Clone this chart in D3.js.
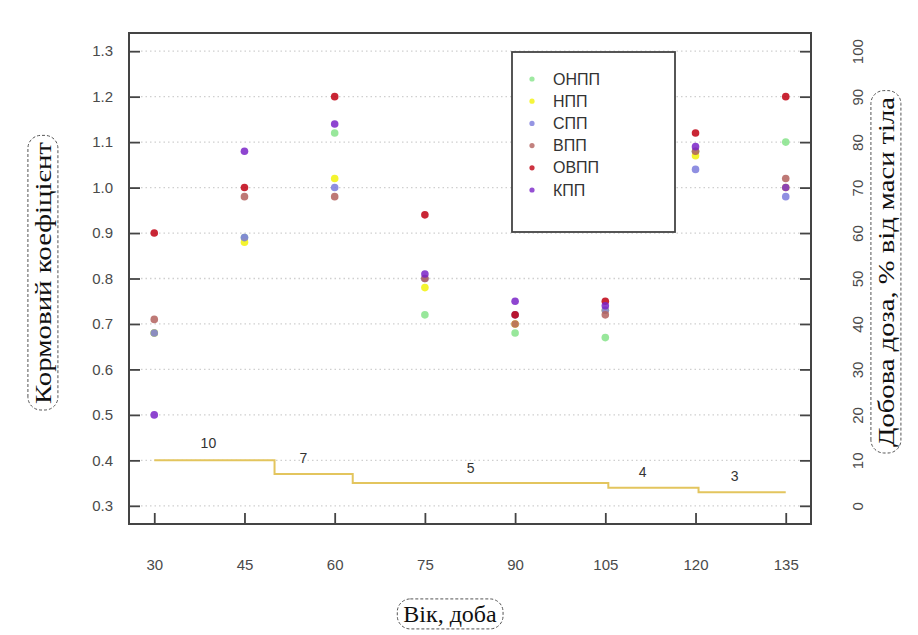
<!DOCTYPE html>
<html>
<head>
<meta charset="utf-8">
<script src="https://cdn.jsdelivr.net/npm/d3@7"></script>
<style>
	body { margin: 0; background: #fff; }
	svg { display: block; }
</style>
</head>
<body>
<svg id="chart" width="918" height="635"></svg>
<script>
"use strict";

// age of the fish, days
var days = [30, 45, 60, 75, 90, 105, 120, 135];

// feed coefficient per group
var seriesNames = ["ОНПП", "НПП", "СПП", "ВПП", "ОВПП", "КПП"];
var onpp = [0.68, 0.89, 1.12, 0.72, 0.68, 0.67, 1.08, 1.10];
var npp  = [0.68, 0.88, 1.02, 0.78, 0.70, 0.73, 1.07, 1.00];
var spp  = [0.68, 0.89, 1.00, 0.80, 0.72, 0.73, 1.04, 0.98];
var vpp  = [0.71, 0.98, 0.98, 0.80, 0.70, 0.72, 1.08, 1.02];
var ovpp = [0.90, 1.00, 1.20, 0.94, 0.72, 0.75, 1.12, 1.20];
var kpp  = [0.50, 1.08, 1.14, 0.81, 0.75, 0.74, 1.09, 1.00];
var seriesColors = ["#86e38a", "#f2f20a", "#7b7bdc", "#b3625e", "#c00012", "#7a24c8"];

// daily ration, % of body mass (right axis)
var doseBreaks = [30, 50, 63, 105.5, 120.5, 135];
var doseValues = [10, 7, 5, 4, 3];
var doseLabelX = [39, 54.8, 82.6, 111.2, 126.5];
var doseLabelY = [13.7, 10.4, 8.4, 7.4, 6.6];

var leftTicks = [0.3, 0.4, 0.5, 0.6, 0.7, 0.8, 0.9, 1.0, 1.1, 1.2, 1.3];
var rightTicks = [0, 10, 20, 30, 40, 50, 60, 70, 80, 90, 100];

var yTitle = "Кормовий коефіцієнт";
var y2Title = "Добова доза, % від маси тіла";
var xTitle = "Вік, доба";

(function() {
	var svg = d3.select("#chart");
	var box = {left: 129, right: 811, top: 33, bottom: 524};

	// R style 4% padding around the data range
	var x = d3.scaleLinear().domain([25.8, 139.2]).range([box.left, box.right]);
	var y = d3.scaleLinear().domain([0.26, 1.34]).range([box.bottom, box.top]);
	var y2 = d3.scaleLinear().domain([-4, 104]).range([box.bottom, box.top]);

	svg.append("rect").attr("width", 918).attr("height", 635).attr("fill", "#fff");

	// dotted grid
	svg.append("g").selectAll("line")
		.data(leftTicks)
		.join("line")
		.attr("x1", box.left + 12).attr("x2", box.right - 10)
		.attr("y1", d => y(d)).attr("y2", d => y(d))
		.attr("stroke", "#cfcfcf")
		.attr("stroke-width", 1.3)
		.attr("stroke-dasharray", "1.5,3");

	// step line of the daily dose
	var steps = [];
	doseValues.forEach(function(v, i) {
		steps.push([doseBreaks[i], v]);
		steps.push([doseBreaks[i + 1], v]);
	});
	svg.append("path")
		.datum(steps)
		.attr("fill", "none")
		.attr("stroke", "#e3c55e")
		.attr("stroke-width", 2)
		.attr("d", d3.line().x(d => x(d[0])).y(d => y2(d[1])));

	svg.append("g").selectAll("text")
		.data(doseValues)
		.join("text")
		.attr("x", (d, i) => x(doseLabelX[i]))
		.attr("y", (d, i) => y2(doseLabelY[i]))
		.attr("dy", "0.35em")
		.attr("text-anchor", "middle")
		.attr("font-family", "Liberation Sans, Arial, sans-serif")
		.attr("font-size", 14)
		.attr("fill", "#333")
		.text(d => d);

	// legend box is drawn before the points, over the grid
	var legend = svg.append("g");
	legend.append("rect")
		.attr("x", 512).attr("y", 52)
		.attr("width", 163).attr("height", 180)
		.attr("fill", "#fff")
		.attr("stroke", "#444")
		.attr("stroke-width", 1.8);
	var rows = legend.selectAll("g")
		.data(seriesNames)
		.join("g")
		.attr("transform", (d, i) => "translate(532," + (79 + i * 22.2) + ")");
	rows.append("circle")
		.attr("r", 2.6)
		.attr("fill", (d, i) => seriesColors[i])
		.attr("opacity", 0.8);
	rows.append("text")
		.attr("x", 21)
		.attr("dy", "0.35em")
		.attr("font-family", "Liberation Sans, Arial, sans-serif")
		.attr("font-size", 16)
		.attr("fill", "#333")
		.text(d => d);

	// points
	var allSeries = [onpp, npp, spp, vpp, ovpp, kpp];
	allSeries.forEach(function(vals, s) {
		svg.append("g").selectAll("circle")
			.data(vals)
			.join("circle")
			.attr("cx", (d, i) => x(days[i]))
			.attr("cy", d => y(d))
			.attr("r", 3.8)
			.attr("fill", seriesColors[s])
			.attr("opacity", 0.85);
	});

	// axes, ticks point inward as in the original
	var font = "Liberation Sans, Arial, sans-serif";
	var axL = svg.append("g").attr("transform", "translate(" + box.left + ",0)")
		.call(d3.axisRight(y).tickValues(leftTicks).tickSize(11).tickFormat(d3.format(".1f")));
	axL.selectAll("text").attr("x", -16).attr("text-anchor", "end");

	var axR = svg.append("g").attr("transform", "translate(" + box.right + ",0)")
		.call(d3.axisLeft(y2).tickValues(rightTicks).tickSize(11));
	axR.selectAll("text")
		.attr("x", null).attr("dy", null)
		.attr("text-anchor", "middle")
		.attr("transform", d => "translate(47,0) rotate(-90)")
		.attr("dy", "0.35em");

	var axB = svg.append("g").attr("transform", "translate(0," + box.bottom + ")")
		.call(d3.axisTop(x).tickValues(days).tickSize(11));
	axB.selectAll("text").attr("y", 41).attr("dy", "0.35em");

	[axL, axR, axB].forEach(function(a) {
		a.select(".domain").remove();
		a.selectAll("line").attr("stroke", "#444").attr("stroke-width", 1.8);
		a.selectAll("text")
			.attr("font-family", font)
			.attr("font-size", 15)
			.attr("fill", "#4a4a4a");
	});

	svg.append("rect")
		.attr("x", box.left).attr("y", box.top)
		.attr("width", box.right - box.left).attr("height", box.bottom - box.top)
		.attr("fill", "none")
		.attr("stroke", "#444")
		.attr("stroke-width", 2);

	// titles with hand drawn dashed outlines
	function title(txt, cx, cy, rot, len) {
		var g = svg.append("g").attr("transform", "translate(" + cx + "," + cy + ") rotate(" + rot + ")");
		var t = g.append("text")
			.attr("text-anchor", "middle")
			.attr("dy", "0.33em")
			.attr("font-family", "Liberation Serif, Times New Roman, serif")
			.attr("font-size", 24)
			.attr("fill", "#111")
			.text(txt);
		if (len) t.attr("textLength", len).attr("lengthAdjust", "spacingAndGlyphs");
		var bb = t.node().getBBox();
		g.insert("rect", "text")
			.attr("x", bb.x - 6).attr("y", bb.y - 2)
			.attr("width", bb.width + 12).attr("height", bb.height + 4)
			.attr("rx", 13)
			.attr("fill", "none")
			.attr("stroke", "#555")
			.attr("stroke-width", 1)
			.attr("stroke-dasharray", "3,2");
	}
	title(yTitle, 43, 273, -90, 262);
	title(y2Title, 886, 272, -90, 350);
	title(xTitle, 450, 614, 0);
}());
</script>
</body>
</html>
